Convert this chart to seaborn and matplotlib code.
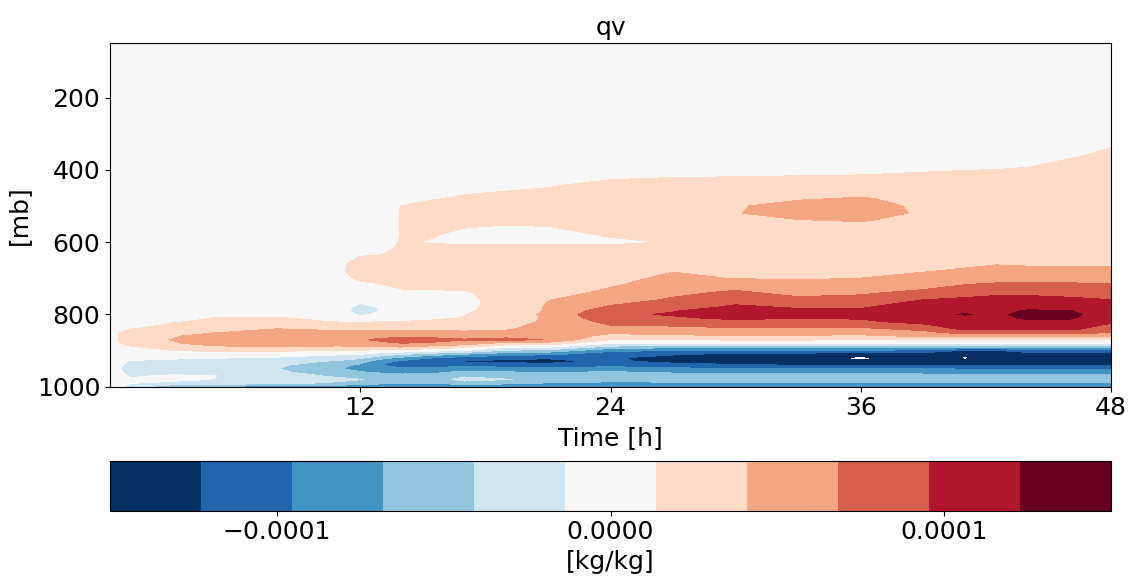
import numpy as np
import matplotlib
matplotlib.use("Agg")
import matplotlib.pyplot as plt
from matplotlib.ticker import FuncFormatter
import seaborn as sns

# ---------------- data (qv anomaly, units of 1e-5 kg/kg) ----------------
time_h = [0, 1, 3, 5, 8, 11, 12, 13, 14, 15.5, 17, 19, 21, 24, 27, 30, 33, 36,
          39, 41, 42.5, 44, 46, 48]

pressure_mb = [1000, 990, 980, 970, 960, 950, 940, 930, 920, 910, 900,
               890, 880, 870, 860, 850, 840, 830, 820, 810, 800, 790,
               780, 760, 740, 720, 700, 680, 660, 640, 620, 600, 580, 560, 540, 520, 500,
               480, 460, 440, 420, 400, 380, 360, 340,
               300, 50]

# one profile per time (same order as pressure_mb)
qv_profiles_e5 = [
    # t = 0
    [0, 0, 0, 0, 0, 0, 0, 0, 0, 0, 0,
     0, 0, 0, 0, 0, 0, 0, 0, 0, 0, 0,
     0, 0, 0, 0, 0, 0, 0, 0, 0, 0, 0, 0, 0, 0, 0,
     0, 0, 0, 0, 0, 0, 0, 0,
     0, 0],
    # t = 1
    [-2.2, -1.3, -1.1, -1.6, -2.2, -2.5, -2.3, -1.6, -0.7, 0.0, 0.6,
     1.1, 2.6, 3.5, 3.4, 2.8, 1.3, 0.6, 0.3, 0.1, 0.0, 0.0,
     0, 0, 0, 0, 0, 0, 0, 0, 0, 0, 0, 0, 0, 0, 0,
     0, 0, 0, 0, 0, 0, 0, 0,
     0, 0],
    # t = 3
    [-7.0, -1.7, -1.0, -1.1, -2.0, -2.8, -2.8, -2.0, -1.0, -0.3, 1.3,
     2.6, 3.9, 4.15, 3.9, 2.9, 2.2, 1.7, 1.2, 0.7, 0.4, 0.2,
     0.1, 0, 0, 0, 0, 0, 0, 0, 0, 0, 0, 0, 0, 0, 0,
     0, 0, 0, 0, 0, 0, 0, 0,
     0, 0],
    # t = 5
    [-7.5, -2.0, -1.4, -1.3, -2.3, -3.0, -3.0, -2.3, -1.2, -0.2, 2.0,
     3.8, 4.8, 5.2, 4.9, 4.0, 3.0, 2.2, 1.7, 1.4, 1.0, 0.6,
     0.3, 0.1, 0, 0, 0, 0, 0, 0, 0, 0, 0, 0, 0, 0, 0,
     0, 0, 0, 0, 0, 0, 0, 0,
     0, 0],
    # t = 8
    [-8.0, -3.5, -2.2, -2.8, -3.5, -4.0, -3.6, -2.8, -1.6, -0.3, 1.8,
     4.0, 5.0, 5.6, 5.4, 4.8, 4.1, 3.2, 2.2, 1.5, 1.0, 0.6,
     0.4, 0.2, 0.1, 0, 0, 0, 0, 0, 0, 0, 0, 0, 0, 0, 0,
     0, 0, 0, 0, 0, 0, 0, 0,
     0, 0],
    # t = 11
    [-8.5, -4.5, -3.5, -4.6, -6.0, -6.7, -6.0, -4.6, -2.8, -1.0, 1.2,
     3.6, 5.4, 6.0, 5.6, 4.6, 3.6, 2.6, 1.2, 0.8, 0.6, 0.6,
     0.4, 0.4, 0.5, 0.7, 0.9, 1.1, 1.0, 0.6, 0.3, 0.1, 0, 0, 0, 0, 0,
     0, 0, 0, 0, 0, 0, 0, 0,
     0, 0],
    # t = 12
    [-9.0, -5.2, -4.0, -5.0, -6.6, -7.6, -7.3, -5.8, -3.6, -1.3, 1.0,
     3.8, 6.0, 6.6, 5.9, 4.7, 3.5, 2.3, 1.2, 0.2, -2.0, -3.2,
     -2.6, -0.4, 0.6, 1.0, 1.6, 2.0, 2.0, 1.4, 0.6, 0.2, 0, 0, 0, 0, 0,
     0, 0, 0, 0, 0, 0, 0, 0,
     0, 0],
    # t = 13
    [-9.5, -6.0, -4.5, -5.5, -7.2, -8.6, -9.6, -8.5, -5.8, -2.6, 0.8,
     4.0, 6.4, 7.2, 6.2, 4.8, 3.4, 2.2, 1.3, 0.7, -0.6, -1.2,
     -1.0, 0.4, 0.8, 1.2, 2.0, 2.6, 2.4, 1.5, 0.9, 0.5, 0.3, 0.3, 0.3, 0.3, 0.3,
     0.2, 0.1, 0, 0, 0, 0, 0, 0,
     0, 0],
    # t = 14
    [-10.0, -6.5, -5.0, -6.0, -7.6, -9.2, -10.6, -10.2, -7.5, -3.8, 0.4,
     4.2, 6.8, 7.6, 6.4, 4.9, 3.4, 2.3, 1.4, 0.9, 0.5, 0.2,
     0.2, 0.5, 0.9, 1.8, 2.2, 2.5, 2.4, 2.0, 1.7, 1.55, 1.5, 1.5, 1.5, 1.5, 1.45,
     0.4, 0.2, 0.1, 0, 0, 0, 0, 0,
     0, 0],
    # t = 15.5
    [-10.0, -6.8, -5.0, -5.8, -7.4, -9.0, -10.8, -11.5, -9.5, -5.5, -0.6,
     3.0, 6.5, 7.5, 6.2, 4.8, 3.4, 2.4, 1.6, 1.1, 0.8, 0.6,
     0.5, 0.7, 1.0, 1.9, 2.4, 2.7, 2.8, 2.6, 2.0, 1.2, 1.5, 2.0, 2.3, 2.4, 2.2,
     1.2, 0.5, 0.2, 0.1, 0, 0, 0, 0,
     0, 0],
    # t = 17
    [-9.0, -5.0, -3.4, -4.4, -6.2, -8.0, -10.5, -12.6, -10.8, -6.8, -1.4,
     2.0, 5.5, 7.0, 6.0, 4.6, 3.3, 2.4, 1.8, 1.45, 1.3, 1.15,
     1.05, 1.1, 1.25, 1.6, 2.3, 2.7, 2.8, 2.7, 2.0, 1.0, 0.8, 1.4, 2.2, 2.5, 2.4,
     1.8, 1.0, 0.4, 0.1, 0, 0, 0, 0,
     0, 0],
    # t = 19
    [-9.5, -6.0, -4.0, -4.8, -6.6, -8.6, -11.0, -13.0, -11.5, -8.5, -4.5,
     -0.8, 3.0, 7.6, 6.0, 4.6, 3.8, 3.5, 2.8, 2.4, 2.2, 2.0,
     1.9, 1.8, 1.8, 2.0, 2.4, 2.7, 2.8, 2.7, 2.2, 1.0, 0.6, 1.0, 2.0, 2.6, 2.6,
     2.2, 1.4, 0.6, 0.2, 0, 0, 0, 0,
     0, 0],
    # t = 21
    [-9.5, -7.0, -4.6, -5.0, -7.0, -9.0, -11.6, -13.0, -12.0, -9.0, -5.0,
     -1.0, 3.0, 6.7, 6.0, 5.2, 5.0, 4.8, 4.6, 4.5, 4.8, 4.4,
     4.4, 4.0, 3.2, 2.8, 2.8, 2.8, 2.8, 2.7, 2.2, 1.0, 0.6, 1.2, 2.2, 2.7, 2.7,
     2.5, 1.8, 1.0, 0.3, 0.1, 0, 0, 0,
     0, 0],
    # t = 24
    [-10.0, -7.5, -5.5, -5.0, -6.5, -8.5, -10.5, -11.8, -12.0, -11.0, -9.0,
     -5.0, -1.2, 1.4, 3.2, 4.5, 5.8, 6.8, 7.6, 8.6, 9.0, 8.4,
     7.2, 5.6, 4.6, 3.9, 3.4, 3.2, 3.0, 2.8, 2.2, 0.9, 1.6, 2.4, 2.8, 3.0, 3.0,
     2.9, 2.6, 2.0, 1.0, 0.4, 0.1, 0, 0,
     0, 0],
    # t = 27
    [-10.0, -7.5, -5.0, -5.5, -7.2, -9.0, -11.5, -13.0, -13.2, -12.0, -9.6,
     -6.0, -1.0, 1.5, 3.6, 5.0, 6.2, 7.0, 8.2, 9.2, 9.8, 9.4,
     8.4, 7.2, 6.2, 5.2, 4.6, 4.0, 3.5, 3.2, 2.8, 1.5, 2.0, 2.6, 2.9, 3.0, 3.0,
     3.0, 2.8, 2.4, 1.3, 0.5, 0.1, 0, 0,
     0, 0],
    # t = 30
    [-10.0, -7.5, -5.0, -5.8, -7.5, -9.4, -12.0, -13.6, -14.0, -12.8, -10.0,
     -6.0, -1.0, 1.6, 3.8, 5.2, 6.4, 7.8, 9.0, 10.0, 10.8, 10.8,
     10.0, 8.6, 7.3, 5.8, 4.0, 3.6, 3.4, 3.3, 3.2, 3.0, 3.2, 3.5, 3.8, 4.0, 3.9,
     3.5, 3.0, 2.6, 1.4, 0.6, 0.2, 0, 0,
     0, 0],
    # t = 33
    [-10.0, -7.5, -5.0, -5.8, -7.4, -9.4, -12.4, -14.0, -14.4, -13.2, -10.0,
     -6.0, -1.0, 1.6, 3.8, 5.0, 6.2, 7.6, 8.8, 9.6, 10.2, 10.0,
     9.3, 7.5, 6.0, 4.8, 3.9, 3.5, 3.3, 3.2, 3.1, 3.0, 3.2, 3.5, 4.0, 4.8, 4.8,
     3.9, 3.2, 2.7, 1.5, 0.7, 0.2, 0, 0,
     0, 0],
    # t = 36
    [-10.0, -7.5, -5.0, -5.8, -7.4, -9.6, -12.6, -14.6, -15.45, -13.8, -10.0,
     -5.6, -1.0, 1.5, 3.6, 5.0, 6.2, 7.8, 9.0, 9.8, 10.2, 10.0,
     9.3, 7.8, 6.4, 5.0, 4.1, 3.6, 3.3, 3.2, 3.1, 3.0, 3.2, 3.6, 4.2, 5.0, 5.1,
     4.3, 3.4, 2.8, 1.6, 0.8, 0.3, 0.1, 0,
     0, 0],
    # t = 39
    [-10.0, -7.5, -5.2, -6.0, -7.6, -9.6, -12.6, -14.4, -14.2, -13.6, -10.5,
     -5.5, -1.0, 1.4, 4.4, 6.0, 7.6, 9.0, 10.6, 11.4, 11.8, 11.6,
     11.0, 9.6, 7.6, 5.8, 4.6, 4.0, 3.6, 3.4, 3.2, 3.1, 3.2, 3.4, 3.6, 3.8, 3.6,
     3.4, 3.0, 2.6, 1.9, 1.1, 0.4, 0.1, 0,
     0, 0],
    # t = 41
    [-10.0, -7.5, -5.2, -6.0, -7.8, -9.8, -12.8, -14.5, -15.3, -14.2, -12.5,
     -6.5, -1.4, 1.2, 5.0, 8.0, 10.2, 11.2, 11.6, 11.8, 12.4, 11.8,
     11.0, 10.0, 8.6, 7.0, 5.4, 4.3, 3.8, 3.5, 3.3, 3.2, 3.2, 3.3, 3.4, 3.4, 3.3,
     3.2, 3.0, 2.6, 2.0, 1.3, 0.5, 0.2, 0,
     0, 0],
    # t = 42.5
    [-10.0, -7.5, -5.2, -6.0, -7.8, -9.8, -12.8, -14.4, -14.4, -14.0, -12.4,
     -6.5, -1.4, 1.2, 4.9, 7.6, 10.0, 11.2, 11.6, 11.7, 11.8, 11.6,
     11.2, 10.4, 9.0, 7.4, 5.8, 4.6, 4.0, 3.6, 3.4, 3.3, 3.3, 3.3, 3.3, 3.3, 3.2,
     3.1, 3.0, 2.7, 2.1, 1.4, 0.6, 0.2, 0,
     0, 0],
    # t = 44
    [-10.0, -7.5, -5.2, -6.0, -7.8, -9.8, -12.6, -14.0, -14.2, -13.6, -11.0,
     -6.5, -1.4, 1.2, 5.0, 8.0, 10.2, 11.4, 11.8, 12.6, 13.0, 12.5,
     11.6, 10.4, 9.0, 7.4, 5.8, 4.5, 3.9, 3.6, 3.4, 3.3, 3.3, 3.3, 3.3, 3.3, 3.3,
     3.2, 3.1, 2.8, 2.3, 1.6, 0.9, 0.3, 0.1,
     0, 0],
    # t = 46
    [-10.0, -7.5, -5.2, -6.0, -7.8, -9.8, -12.6, -14.0, -14.2, -13.6, -10.8,
     -6.5, -1.4, 1.2, 5.0, 8.0, 10.0, 11.2, 11.8, 12.5, 12.9, 12.4,
     11.4, 10.0, 8.8, 7.4, 5.8, 4.4, 3.9, 3.6, 3.4, 3.3, 3.3, 3.3, 3.3, 3.3, 3.3,
     3.3, 3.2, 3.0, 2.7, 2.2, 1.7, 1.1, 0.5,
     0.1, 0],
    # t = 48
    [-10.0, -7.5, -5.2, -6.0, -7.8, -9.8, -12.6, -14.0, -14.0, -13.4, -10.8,
     -6.5, -1.4, 1.6, 4.6, 6.9, 8.6, 9.0, 10.0, 10.8, 11.0, 10.8,
     10.4, 9.6, 8.4, 7.2, 5.8, 4.5, 3.9, 3.6, 3.5, 3.4, 3.4, 3.4, 3.4, 3.4, 3.4,
     3.4, 3.3, 3.2, 3.0, 2.7, 2.3, 1.8, 1.4,
     0.3, 0],
]
qv_scale = 1e-5  # kg/kg per unit above

contour_levels = np.linspace(-1.5e-4, 1.5e-4, 12)
cbar_ticks = [-1e-4, 0.0, 1e-4]
x_ticks = [12, 24, 36, 48]
y_ticks = [200, 400, 600, 800, 1000]
title_text = "qv"
x_label = "Time [h]"
y_label = "[mb]"
cbar_label = "[kg/kg]"

# ---------------- style ----------------
sns.set_theme(style="ticks", rc={
    "axes.edgecolor": "black", "axes.linewidth": 0.8,
    "xtick.color": "black", "ytick.color": "black",
    "xtick.major.size": 3.5, "ytick.major.size": 3.5,
    "xtick.major.width": 0.8, "ytick.major.width": 0.8,
    "text.color": "black", "axes.labelcolor": "black",
    "axes.facecolor": "white", "figure.facecolor": "white",
})
plt.rcParams["font.family"] = ["DejaVu Sans"]
FS = 18

T = np.array(time_h, dtype=float)
P = np.array(pressure_mb, dtype=float)
Z = np.array(qv_profiles_e5, dtype=float).T * qv_scale

W, H = 1133, 585
fig = plt.figure(figsize=(W / 100, H / 100), dpi=100)
ax = fig.add_axes([110 / W, 1 - 386.7 / H, 1001 / W, (386.7 - 43.3) / H])
cax = fig.add_axes([110 / W, 1 - 510.7 / H, 1001 / W, 50 / H])

cmap = sns.color_palette("RdBu_r", as_cmap=True).resampled(11)
cf = ax.contourf(T, P, Z, levels=contour_levels, cmap=cmap)

ax.set_xlim(0, 48)
ax.set_ylim(1000, 50)
ax.set_xticks(x_ticks)
ax.set_yticks(y_ticks)
ax.tick_params(labelsize=FS)
ax.set_title(title_text, fontsize=FS)
ax.set_xlabel(x_label, fontsize=FS)
ax.set_ylabel(y_label, fontsize=FS)

cb = fig.colorbar(cf, cax=cax, orientation="horizontal", ticks=cbar_ticks)
cb.ax.xaxis.set_major_formatter(
    FuncFormatter(lambda v, pos: f"{v:.4f}".replace("-", "\u2212")))
cb.ax.tick_params(labelsize=FS)
cb.set_label(cbar_label, fontsize=FS)
cb.outline.set_linewidth(0.8)

fig.savefig("out.png", dpi=100)
